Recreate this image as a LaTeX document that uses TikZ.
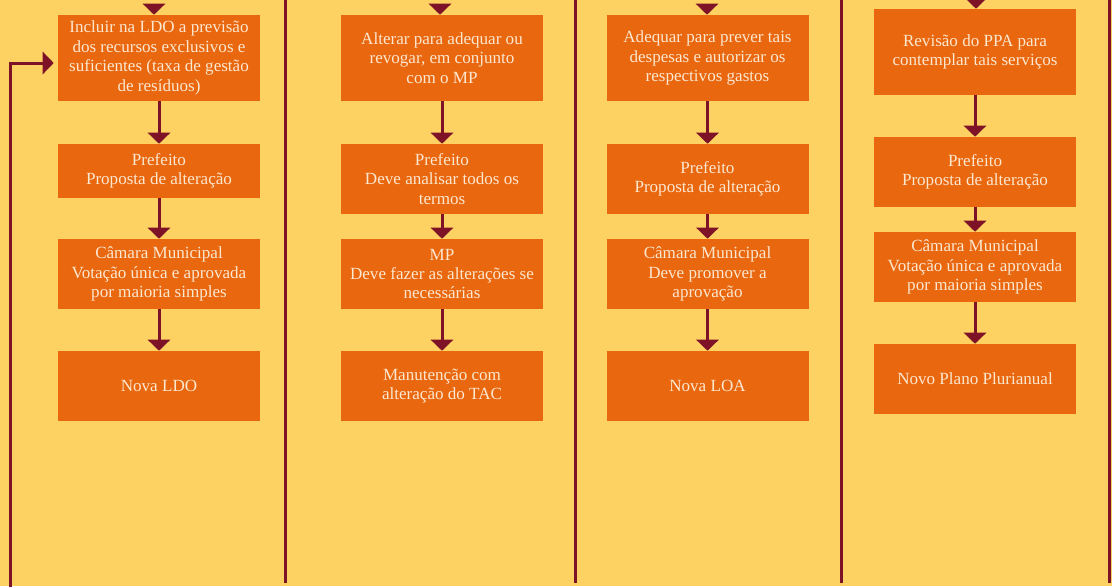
\documentclass[tikz,border=0pt]{standalone}
\usepackage{fontspec}
\setmainfont{Liberation Serif}
\usetikzlibrary{arrows.meta}
\definecolor{fundo}{HTML}{FED163}
\definecolor{laranja}{HTML}{E8670F}
\definecolor{vinho}{HTML}{7E1328}
\definecolor{creme}{HTML}{FCE7CF}

\begin{document}
\begin{tikzpicture}[x=0.75pt, y=-0.75pt,
        caixa/.style={fill=laranja, text=creme, align=center, inner sep=0pt,
            minimum width=151.5pt, minimum height=52.5pt,
            font=\fontsize{12.8}{14.6}\selectfont},
        seta/.style={draw=vinho, line width=2.25pt,
            -{Triangle[width=16.5pt, length=8.25pt]}},
        linha/.style={draw=vinho, line width=2.25pt}]
        % 背景
        \fill[fundo] (0,0) rectangle (1112,586);
        \useasboundingbox (0,0) rectangle (1112,586);

        % 分隔线
        \foreach \x in {285,575,841,1109}
            \draw[linha] (\x,0) -- (\x,583);

        % 第一列 LDO
        \node[caixa, minimum height=64.5pt] (incluir) at (159,58)
            {Incluir na LDO a previsão\\dos recursos exclusivos e\\suficientes (taxa de gestão\\de resíduos)};
        \node[caixa, minimum height=40.5pt] (prefeito1) at (159,171)
            {Prefeito\\Proposta de alteração};
        \node[caixa] (camara1) at (159,274)
            {Câmara Municipal\\Votação única e aprovada\\por maioria simples};
        \node[caixa] (novaldo) at (159,386) {Nova LDO};
        \coordinate (topo1) at (154,4);
        \coordinate (retorno) at (10,592);
        \draw[seta] (topo1) -- (topo1 |- incluir.north);
        \draw[seta] (incluir.south) -- (prefeito1.north);
        \draw[seta] (prefeito1.south) -- (camara1.north);
        \draw[seta] (camara1.south) -- (novaldo.north);
        \draw[seta, shorten >=3pt] (retorno) |- ([yshift=-3.75pt]incluir.west);

        % 第二列 TAC
        \node[caixa, minimum height=64.5pt] (alterar) at (442,58)
            {Alterar para adequar ou\\revogar, em conjunto\\com o MP};
        \node[caixa] (prefeito2) at (442,179)
            {Prefeito\\Deve analisar todos os\\termos};
        \node[caixa] (mp) at (442,274)
            {MP\\Deve fazer as alterações se\\necessárias};
        \node[caixa] (manutencao) at (442,386)
            {Manutenção com\\alteração do TAC};
        \coordinate (topo2) at (440,4);
        \draw[seta] (topo2) -- (topo2 |- alterar.north);
        \draw[seta] (alterar.south) -- (prefeito2.north);
        \draw[seta] (prefeito2.south) -- (mp.north);
        \draw[seta] (mp.south) -- (manutencao.north);

        % 第三列 LOA
        \node[caixa, minimum height=64.5pt] (adequar) at (707.5,58)
            {Adequar para prever tais\\despesas e autorizar os\\respectivos gastos};
        \node[caixa] (prefeito3) at (707.5,179)
            {Prefeito\\Proposta de alteração};
        \node[caixa] (camara3) at (707.5,274)
            {Câmara Municipal\\Deve promover a\\aprovação};
        \node[caixa] (novaloa) at (707.5,386) {Nova LOA};
        \coordinate (topo3) at (707,4);
        \draw[seta] (topo3) -- (topo3 |- adequar.north);
        \draw[seta] (adequar.south) -- (prefeito3.north);
        \draw[seta] (prefeito3.south) -- (camara3.north);
        \draw[seta] (camara3.south) -- (novaloa.north);

        % 第四列 PPA
        \node[caixa, minimum height=64.5pt] (revisao) at (975,52)
            {Revisão do PPA para\\contemplar tais serviços};
        \node[caixa] (prefeito4) at (975,172)
            {Prefeito\\Proposta de alteração};
        \node[caixa] (camara4) at (975,267)
            {Câmara Municipal\\Votação única e aprovada\\por maioria simples};
        \node[caixa] (novoppa) at (975,379) {Novo Plano Plurianual};
        \coordinate (topo4) at (976,-3);
        \draw[seta] (topo4) -- (topo4 |- revisao.north);
        \draw[seta] (revisao.south) -- (prefeito4.north);
        \draw[seta] (prefeito4.south) -- (camara4.north);
        \draw[seta] (camara4.south) -- (novoppa.north);
        \end{tikzpicture}
\end{document}
